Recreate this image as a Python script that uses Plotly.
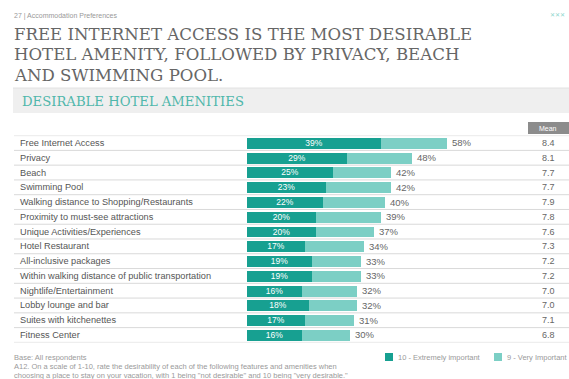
import plotly.graph_objects as go

categories = [
    "Free Internet Access", "Privacy", "Beach", "Swimming Pool",
    "Walking distance to Shopping/Restaurants", "Proximity to must-see attractions",
    "Unique Activities/Experiences", "Hotel Restaurant", "All-inclusive packages",
    "Within walking distance of public transportation", "Nightlife/Entertainment",
    "Lobby lounge and bar", "Suites with kitchenettes", "Fitness Center",
]
extremely = [39, 29, 25, 23, 22, 20, 20, 17, 19, 19, 16, 18, 17, 16]
top2 = [58, 48, 42, 42, 40, 39, 37, 34, 33, 33, 32, 32, 31, 30]
means = ["8.4", "8.1", "7.7", "7.7", "7.9", "7.8", "7.6", "7.3", "7.2", "7.2", "7.0", "7.0", "7.1", "6.8"]
very = [t - e for t, e in zip(top2, extremely)]

W, H = 569, 379
DARK = "#17a091"
LIGHT = "#7ccfc5"
x0px = 247
pxper = 3.44

fig = go.Figure()
fig.add_trace(go.Bar(
    y=categories, x=extremely, orientation="h", marker=dict(color=DARK, line=dict(width=0)),
    text=[f"{v}%" for v in extremely], textposition="inside", insidetextanchor="middle",
    constraintext="none", cliponaxis=False,
    textfont=dict(color="white", size=8.5, family="Liberation Sans"),
    name="10 - Extremely important", showlegend=False, width=0.74))
fig.add_trace(go.Bar(
    y=categories, x=very, orientation="h", marker=dict(color=LIGHT, line=dict(width=0)),
    name="9 - Very Important", showlegend=False, width=0.74))

ann = []
for i, c in enumerate(categories):
    ann.append(dict(x=18 / W, xref="paper", y=c, yref="y", text=c, showarrow=False,
                    xanchor="left", yanchor="middle",
                    font=dict(size=9.2, color="#555", family="Liberation Sans")))
    ann.append(dict(x=top2[i], xref="x", y=c, yref="y", text=f"{top2[i]}%", showarrow=False,
                    xanchor="left", yanchor="middle", xshift=3,
                    font=dict(size=9.5, color="#666", family="Liberation Sans")))
    ann.append(dict(x=548 / W, xref="paper", y=c, yref="y", text=means[i], showarrow=False,
                    xanchor="center", yanchor="middle",
                    font=dict(size=9, color="#666", family="Liberation Sans")))

shapes = []
for i in range(len(categories) + 1):
    shapes.append(dict(type="line", xref="paper", yref="y", x0=14 / W, x1=1,
                       y0=i - 0.5, y1=i - 0.5, line=dict(color="#d9d9d9", width=1)))

# header band
shapes.append(dict(type="rect", xref="paper", yref="paper", x0=13 / W, x1=1,
                   y0=1 - 113 / H, y1=1 - 88 / H, fillcolor="#efefef", line=dict(width=0), layer="below"))
shapes.append(dict(type="line", xref="paper", yref="paper", x0=13 / W, x1=1,
                   y0=1 - 88 / H, y1=1 - 88 / H, line=dict(color="#e2e2e2", width=1)))
# mean box
shapes.append(dict(type="rect", xref="paper", yref="paper", x0=528 / W, x1=1,
                   y0=1 - 134 / H, y1=1 - 122 / H, fillcolor="#8c8c8c", line=dict(width=0)))
ann.append(dict(x=548 / W, y=1 - 128 / H, xref="paper", yref="paper", text="Mean", showarrow=False,
                xanchor="center", yanchor="middle",
                font=dict(size=7, color="white", family="Liberation Sans")))

# titles
ann.append(dict(x=12 / W, y=1 - 16 / H, xref="paper", yref="paper", xanchor="left", yanchor="middle",
                text="27 | Accommodation Preferences", showarrow=False,
                font=dict(size=7, color="#999", family="Liberation Sans")))
ann.append(dict(x=557 / W, y=1 - 15 / H, xref="paper", yref="paper", xanchor="center", yanchor="middle",
                text="✕✕✕", showarrow=False, font=dict(size=6, color="#8fd6cd")))
title_lines = ["FREE INTERNET ACCESS IS THE MOST DESIRABLE",
               "HOTEL AMENITY, FOLLOWED BY PRIVACY, BEACH",
               "AND SWIMMING POOL."]
for k, t in enumerate(title_lines):
    ann.append(dict(x=12 / W, y=1 - (35 + 20 * k) / H, xref="paper", yref="paper",
                    xanchor="left", yanchor="middle",
                    text=t, showarrow=False,
                    font=dict(size=16.6, color="#666", family="DejaVu Serif")))
ann.append(dict(x=20 / W, y=1 - 101 / H, xref="paper", yref="paper", xanchor="left", yanchor="middle",
                text="DESIRABLE HOTEL AMENITIES", showarrow=False,
                font=dict(size=13.2, color="#4fb7ab", family="DejaVu Serif")))

# footnote
foot = ["Base: All respondents",
        "A12. On a scale of 1-10, rate the desirability of each of the following features and amenities when",
        "choosing a place to stay on your vacation, with 1 being \"not desirable\" and 10 being \"very desirable.\""]
for k, t in enumerate(foot):
    ann.append(dict(x=12 / W, y=1 - (357 + 9 * k) / H, xref="paper", yref="paper",
                    xanchor="left", yanchor="middle",
                    text=t, showarrow=False, font=dict(size=7.5, color="#9a9a9a", family="Liberation Sans")))

# legend
for lx, col, lab in [(385, DARK, "10 - Extremely important"), (494, LIGHT, "9 - Very Important")]:
    shapes.append(dict(type="rect", xref="paper", yref="paper", x0=lx / W, x1=(lx + 8) / W,
                       y0=1 - 361 / H, y1=1 - 353 / H, fillcolor=col, line=dict(width=0)))
    ann.append(dict(x=(lx + 11) / W, y=1 - 357 / H, xref="paper", yref="paper",
                    xanchor="left", yanchor="middle",
                    text=lab, showarrow=False, font=dict(size=7.5, color="#9a9a9a", family="Liberation Sans")))

row0 = 143
pitch = (335 - 143) / 13
ytop = row0 - pitch / 2
ybot = 335 + pitch / 2

fig.update_layout(
    width=W, height=H, margin=dict(l=0, r=0, t=0, b=0),
    paper_bgcolor="white", plot_bgcolor="rgba(0,0,0,0)",
    barmode="stack", bargap=0,
    xaxis=dict(domain=[x0px / W, 1], range=[0, (W - x0px) / pxper], visible=False, fixedrange=True),
    yaxis=dict(domain=[1 - ybot / H, 1 - ytop / H], range=[len(categories) - 0.5, -0.5],
               visible=False, type="category", categoryarray=categories, fixedrange=True),
    annotations=ann, shapes=shapes,
)

fig.write_html("out.html")
